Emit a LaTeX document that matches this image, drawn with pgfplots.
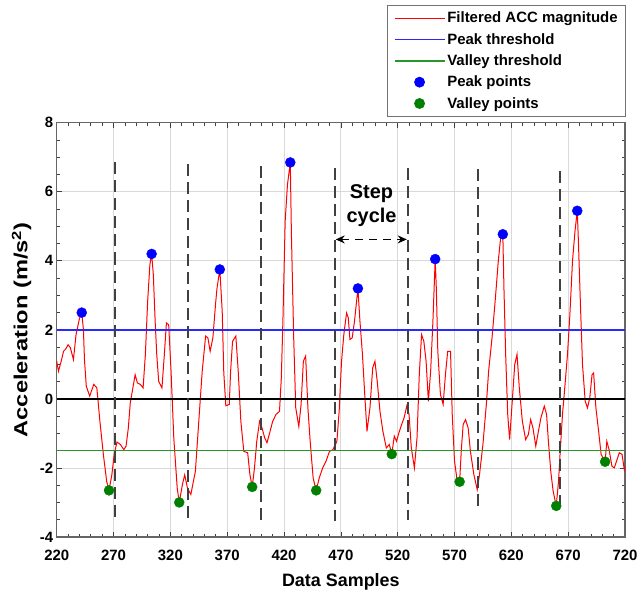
\documentclass[border=0pt]{standalone}
\usepackage{fontspec}
\setmainfont{Liberation Sans}
\usepackage{pgfplots}
\pgfplotsset{compat=1.18}
\usetikzlibrary{arrows.meta}
\definecolor{accred}{RGB}{255,0,0}
\definecolor{thblue}{RGB}{40,40,255}
\definecolor{thgreen}{RGB}{40,150,40}
\definecolor{ptgreen}{RGB}{0,128,0}
\pgfplotsset{
  lineleg/.style={legend image code/.code={\draw[##1] (0bp,0bp) -- (50bp,0bp);}},
  markleg/.style={legend image code/.code={\draw[##1] plot coordinates {(25bp,0bp)};}},
  stepline/.style={black!75, line width=1.8bp, dash pattern=on 12bp off 6bp, forget plot},
}

\begin{document}
\begin{tikzpicture}
\begin{axis}[scale only axis,
width=568bp,
height=414bp,
xmin=220, xmax=720,
ymin=-4, ymax=8,
xtick={220,270,...,720},
ytick={-4,-2,...,8},
minor x tick num=4,
minor y tick num=3,
tick align=inside,
major tick length=5bp,
minor tick length=3bp,
tick style={black!75, line width=0.7bp},
grid=major,
major grid style={black!15, line width=0.8bp},
axis line style={black!60, line width=1.2bp},
/pgf/number format/assume math mode=true,
tick label style={font=\fontsize{15}{17}\selectfont\bfseries},
label style={font=\fontsize{18}{20}\selectfont\bfseries},
xlabel={Data Samples},
ylabel={\scalebox{1.25}[1]{\fontsize{19}{21}\selectfont Acceleration (m/s\textsuperscript{2})}},
xlabel style={at={(axis description cs:0.5,0)}, anchor=north, yshift=-33bp},
ylabel style={at={(axis description cs:0,0.5)}, anchor=south, yshift=22bp},
xticklabel style={yshift=-10bp},
legend cell align=left,
legend style={at={(axis description cs:1,1)}, anchor=south east,
  yshift=5.7bp, xshift=1bp, draw=black!55, line width=0.8bp,
  font=\fontsize{15}{17}\selectfont\bfseries, row sep=5bp,
  inner xsep=6bp, inner ysep=5bp},
]
\addplot[accred, line width=1bp, lineleg] coordinates {
(220,1.1) (221.5,0.8) (224,1.1) (226,1.38) (228,1.45) (230,1.57) (232,1.48)
(234.7,1.14) (237,1.86) (240,2.33) (242,2.5) (243.5,2.0) (244.4,1.14) (246,0.37)
(249,0.08) (252.6,0.42) (255.3,0.32) (258,-0.65) (261,-1.6) (264,-2.4) (266,-2.65)
(268.5,-2.2) (270.6,-1.6) (273,-1.25) (276,-1.32) (279,-1.47) (281,-1.37)
(283,-0.84) (284.7,-0.12) (287,0.32) (289,0.7) (291,0.46) (293.5,0.42) (296,0.32)
(298,1.29) (300,2.83) (302,3.9) (303.5,4.2) (305,3.6) (306.6,2.25) (308,1.29)
(309.7,0.51) (312.6,0.32) (314.7,1.29) (316.5,2.2) (318.5,2.15) (320.6,0.8)
(323,-1.13) (326,-2.58) (327.8,-3.0) (330.6,-2.48) (332.6,-2.2) (335,-2.58)
(338,-2.77) (340,-2.43) (342,-2.1) (345,-0.65) (348,0.8) (351,1.82) (353,1.77)
(355,1.38) (357.4,1.77) (359.7,2.73) (361,3.2) (363.5,3.75) (365.6,2.54) (367,0.75)
(368.8,-0.2) (371.8,-0.16) (373,0.8) (374.7,1.67) (377.6,1.82) (379.7,0.8)
(382,-0.65) (384.6,-1.52) (388,-1.56) (390,-2.2) (392,-2.55) (394,-2.0) (396,-1.23)
(398.5,-0.65) (400.6,-0.84) (403,-1.13) (405,-1.27) (407,-1.03) (410,-0.65)
(413,-0.45) (416,-0.36) (417.6,0.6) (419,2.25) (421,5.15) (423,6.2) (425.5,6.85)
(426.5,4.76) (428.5,1.77) (430.3,-0.26) (433,-0.8) (435,-0.16) (437,1.09) (439,1.24)
(441,-0.26) (443,-1.23) (445.6,-2.29) (448.3,-2.65) (451,-2.29) (454,-2.0) (457,-1.8)
(460,-1.52) (463,-1.47) (466.5,-1.23) (468.5,-0.36) (470.6,1.09) (472.6,1.86)
(475,2.49) (476.5,2.35) (478,1.72) (480,1.77) (482,2.25) (485,3.2) (486.8,2.25)
(489,1.29) (491,0.13) (493,-0.94) (495.6,-0.26) (498,0.9) (500,1.09) (502,0.51)
(504.4,-0.36) (507,-0.94) (510,-1.42) (512.6,-1.32) (514.8,-1.6) (517,-1.08)
(519,-1.23) (521,-0.99) (523.5,-0.74) (525.6,-0.55) (528,-0.21) (530,-0.45)
(532,-1.42) (534.7,-2.0) (537,-1.13) (539,0.7) (541,1.86) (543,1.67) (545,1.09)
(547,-0.07) (549,0.8) (551,2.25) (553,4.05) (554,3.2) (555.3,1.38) (557.6,0.13)
(560,-0.16) (562,0.7) (564,1.38) (566.5,1.38) (568,-0.45) (570,-1.8) (572,-2.29)
(574.5,-2.4) (576,-1.47) (577.6,-0.74) (579.7,-0.6) (582,-0.84) (584,-1.52)
(587,-2.19) (590,-2.63) (592,-2.19) (595,-1.32) (598,-0.16) (600,0.8) (603,1.77)
(606,2.93) (608.5,3.99) (610.6,4.67) (612.5,4.77) (613.5,3.2) (615,1.29)
(616.8,-0.45) (618.5,-1.18) (621,0.03) (623,1.0) (625,1.29) (627,0.32) (629.7,-0.65)
(632.6,-1.18) (635,-1.03) (637,-0.6) (639,-0.84) (641.5,-1.37) (643.8,-0.94)
(646,-0.55) (649,-0.21) (651,-0.45) (652.6,-1.23) (654.7,-2.1) (656.8,-2.68)
(659.5,-3.1) (661.5,-2.39) (663,-1.52) (665,-0.45) (667,0.32) (669.4,1.29)
(671.5,2.44) (673.8,3.99) (676,4.86) (678,5.45) (679,4.57) (680.6,2.93) (682.6,1.0)
(685,-0.07) (687,-0.26) (689,0.03) (691,0.7) (692.4,0.75) (694.4,-0.26) (696.8,-0.94)
(699,-1.61) (702.5,-1.82) (704,-1.23) (706,-1.47) (708.5,-1.95) (710.6,-2.0)
(712.6,-1.8) (715,-1.56) (717.4,-1.61) (719.4,-2.05) (720,-1.95)
};
\addlegendentry{Filtered ACC magnitude}
\addplot[thblue, line width=1.5bp, lineleg] coordinates {(220,2) (720,2)};
\addlegendentry{Peak threshold}
\addplot[thgreen, line width=1.5bp, lineleg] coordinates {(220,-1.5) (720,-1.5)};
\addlegendentry{Valley threshold}
\addplot[only marks, mark=*, mark size=5bp, blue, mark options={draw=blue, fill=blue}, markleg] coordinates {
(242,2.5) (303.5,4.2) (363.5,3.75) (425.5,6.85) (485,3.2) (553,4.05) (612.5,4.77) (678,5.45)
};
\addlegendentry{Peak points}
\addplot[only marks, mark=*, mark size=5bp, ptgreen, mark options={draw=ptgreen, fill=ptgreen}, markleg] coordinates {
(266,-2.65) (327.8,-3.0) (392,-2.55) (448.3,-2.65) (514.8,-1.6) (574.5,-2.4) (659.5,-3.1) (702.5,-1.82)
};
\addlegendentry{Valley points}
% zero line
\addplot[black, line width=1.8bp, forget plot] coordinates {(220,0) (720,0)};
% step boundaries
\addplot[stepline] coordinates {(271.5,6.85) (271.5,-3.55)};
\addplot[stepline] coordinates {(335.5,6.8) (335.5,-3.55)};
\addplot[stepline] coordinates {(399.5,6.75) (399.5,-3.55)};
\addplot[stepline] coordinates {(464.5,6.7) (464.5,-3.55)};
\addplot[stepline] coordinates {(529,6.7) (529,-3.5)};
\addplot[stepline] coordinates {(591,6.65) (591,-3.25)};
\addplot[stepline] coordinates {(662.5,6.6) (662.5,-3.3)};
\draw[black, line width=1.3bp, dash pattern=on 8bp off 6bp, {Stealth[length=9bp,width=8bp]}-{Stealth[length=9bp,width=8bp]}]
  (axis cs:465.5,4.62) -- (axis cs:528,4.62);
\node[font=\fontsize{20}{24}\selectfont\bfseries, align=center, anchor=center]
  at (axis cs:497,5.6) {Step\\cycle};
\end{axis}
\pgfresetboundingbox
\path[use as bounding box] ([xshift=-56.7bp,yshift=-58.3bp]current axis.south west) rectangle
  ([xshift=13bp,yshift=122.7bp]current axis.north east);
\end{tikzpicture}
\end{document}
